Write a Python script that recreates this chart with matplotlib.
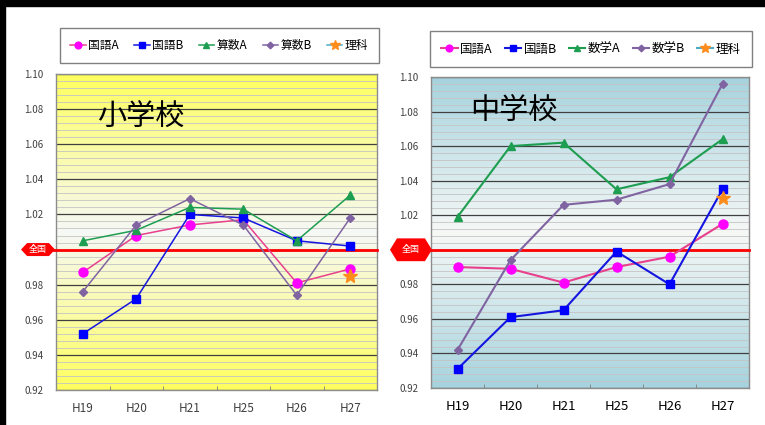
import numpy as np
import matplotlib
matplotlib.use('Agg')
import matplotlib.pyplot as plt
from matplotlib.patches import Polygon, Rectangle
from matplotlib import transforms

plt.rcParams['font.family'] = ['Noto Sans CJK JP', 'DejaVu Sans']

years = ['H19', 'H20', 'H21', 'H25', 'H26', 'H27']

# 小学校 (elementary)
sho_names = ['国語A', '国語B', '算数A', '算数B', '理科']
sho_kokugo_a = [0.987, 1.008, 1.014, 1.017, 0.981, 0.989]
sho_kokugo_b = [0.952, 0.972, 1.020, 1.018, 1.005, 1.002]
sho_sansu_a = [1.005, 1.011, 1.024, 1.023, 1.005, 1.031]
sho_sansu_b = [0.976, 1.014, 1.029, 1.014, 0.974, 1.018]
sho_rika = [np.nan, np.nan, np.nan, np.nan, np.nan, 0.985]

# 中学校 (junior high)
chu_names = ['国語A', '国語B', '数学A', '数学B', '理科']
chu_kokugo_a = [0.990, 0.989, 0.981, 0.990, 0.996, 1.015]
chu_kokugo_b = [0.931, 0.961, 0.965, 0.999, 0.980, 1.035]
chu_sugaku_a = [1.019, 1.060, 1.062, 1.035, 1.042, 1.064]
chu_sugaku_b = [0.942, 0.994, 1.026, 1.029, 1.038, 1.096]
chu_rika = [np.nan, np.nan, np.nan, np.nan, np.nan, 1.030]

national = 1.0

# line color, marker color, marker, marker size
styles = [
    ('#E8408C', '#FF00FF', 'o', 6.5),
    ('#1515E0', '#0000FF', 's', 6),
    ('#1E9E50', '#1E9E50', '^', 6),
    ('#8064A2', '#8064A2', 'D', 4.5),
    ('#4BACC6', '#FF8C1A', '*', 10),
]


def gradient(edge, center, n=256):
    t = np.abs(np.linspace(-1, 1, n))[:, None]
    edge = np.array(matplotlib.colors.to_rgb(edge))
    center = np.array(matplotlib.colors.to_rgb(center))
    img = center * (1 - t) + edge * t
    return img[:, None, :].repeat(2, axis=1)


def draw_panel(ax, series, names, edge, title, title_xy, leg_box, badge, lw,
               fs_leg, fs_x, xcol):
    x = np.arange(len(years))
    ax.imshow(gradient(edge, '#F6F8F6'), extent=[-0.5, 5.5, 0.92, 1.10],
              aspect='auto', zorder=0)
    for vals, name, (lc, mc, mk, ms) in zip(series, names, styles):
        ax.plot(x, vals, color=lc, lw=lw, marker=mk, ms=ms, mfc=mc, mec=mc,
                label=name, zorder=4 if mk != '*' else 5)
    ax.set_xlim(-0.5, 5.5)
    ax.set_ylim(0.92, 1.10)
    yt = np.arange(0.92, 1.1001, 0.02)
    ax.set_yticks(yt)
    # the 1.00 label is hidden behind the 全国 badge
    ax.set_yticklabels(['' if abs(v - national) < 1e-6 else '%.2f' % v for v in yt])
    ax.set_yticks(np.arange(0.92, 1.1001, 0.004), minor=True)
    ax.set_xticks(x)
    ax.set_xticklabels(years)
    ax.set_xticks(x[:-1] + 0.5, minor=True)
    ax.yaxis.grid(True, which='minor', color='#C4C4C4', lw=0.6)
    ax.yaxis.grid(True, which='major', color='#404040', lw=0.9)
    ax.set_axisbelow(True)
    ax.tick_params(axis='y', which='both', length=0, pad=9, labelsize=7,
                   colors='#404040')
    ax.tick_params(axis='x', which='major', length=0, pad=9, labelsize=fs_x,
                   colors=xcol)
    ax.tick_params(axis='x', which='minor', direction='in', length=3,
                   color='#808080')
    for s in ax.spines.values():
        s.set_color('#8C8C8C')
        s.set_linewidth(1)

    # 全国 reference line and badge
    ax.axhline(national, xmin=-0.02, xmax=1, color='#FF0000', lw=2,
               clip_on=False, zorder=3)
    bt = transforms.blended_transform_factory(ax.transAxes, ax.transData)
    x0, x1, hh, ins = badge
    pts = [(x0, national), (x0 + ins, national + hh), (x1 - ins, national + hh),
           (x1, national), (x1 - ins, national - hh), (x0 + ins, national - hh)]
    ax.add_patch(Polygon(pts, closed=True, transform=bt, facecolor='#FF0000',
                         edgecolor='none', clip_on=False, zorder=6))
    ax.text((x0 + x1) / 2, national, '全国', transform=bt, color='white',
            fontsize=6.5, ha='center', va='center', zorder=7)

    ax.text(title_xy[0], title_xy[1], title, transform=bt, fontsize=21,
            ha='left', va='center', color='black', zorder=6)

    leg = ax.legend(loc='center', bbox_to_anchor=leg_box, mode='expand',
                    ncol=5, fontsize=fs_leg, frameon=True, fancybox=False,
                    edgecolor='#808080', framealpha=1, handlelength=1.3,
                    handletextpad=0.2, columnspacing=1.0, borderpad=0.9,
                    markerscale=0.75, borderaxespad=0)
    leg.get_frame().set_linewidth(1)


fig = plt.figure(figsize=(7.65, 4.25), dpi=100)
fig.patches.append(Rectangle((0, 419 / 425), 1, 6 / 425,
                             transform=fig.transFigure, color='black'))
fig.patches.append(Rectangle((0, 0), 5 / 765, 1,
                             transform=fig.transFigure, color='black'))

ax1 = fig.add_axes([56 / 765, 35 / 425, 321 / 765, 316 / 425])
draw_panel(ax1, [sho_kokugo_a, sho_kokugo_b, sho_sansu_a, sho_sansu_b, sho_rika],
           sho_names, '#FFFF5E', '小学校', (0.128, 1.075),
           (0.012, 1.038, 0.994, 0.104), (-0.109, -0.003, 0.0037, 0.019),
           1.1, 8.5, 8.5, '#404040')

ax2 = fig.add_axes([431 / 765, 37 / 425, 318 / 765, 311 / 425])
draw_panel(ax2, [chu_kokugo_a, chu_kokugo_b, chu_sugaku_a, chu_sugaku_b, chu_rika],
           chu_names, '#A6D3DE', '中学校', (0.123, 1.0797),
           (-0.003, 1.029, 1.012, 0.122), (-0.129, 0.003, 0.0066, 0.022),
           1.5, 9, 9.5, 'black')

fig.savefig('out.png', dpi=100)
